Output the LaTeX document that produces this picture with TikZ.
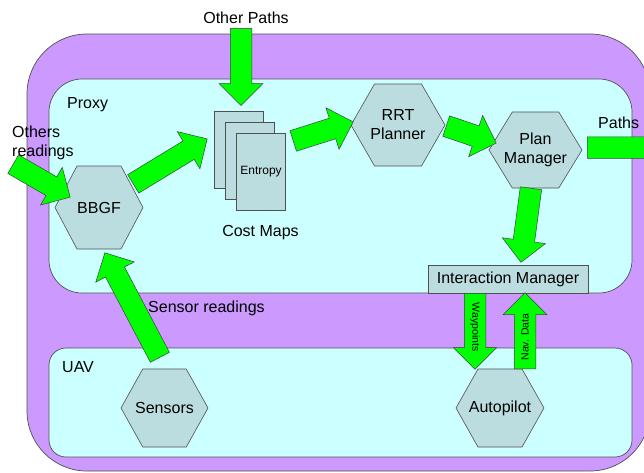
\documentclass[tikz,border=0pt]{standalone}
\usepackage{fontspec}
\setmainfont{Liberation Sans}
\usetikzlibrary{shapes.arrows,calc}
\definecolor{outerc}{HTML}{CC99FF}
\definecolor{innerc}{HTML}{CCFFFF}
\definecolor{hexc}{HTML}{BBDDE0}
\definecolor{linec}{HTML}{505050}
\definecolor{arrc}{HTML}{00FF00}
\tikzset{
  lbl/.style={inner sep=0pt, font=\fontsize{16}{19}\selectfont},
  hexbody/.style={fill=hexc, draw=linec, line width=0.6pt},
  hexlabel/.style={inner sep=0pt, align=center, font=\fontsize{16}{19}\selectfont},
  sheet/.style={draw=linec, fill=hexc, line width=0.6pt, minimum width=49pt, minimum height=77pt, inner sep=0pt},
  barrow/.style={single arrow, draw=black!75, fill=arrc, line width=0.5pt, inner sep=0pt, inner ysep=10.5pt, single arrow head extend=11pt, single arrow tip angle=90},
  region/.style={draw=linec, line width=0.7pt},
}
\newcommand\hexnode[6]{%
  \filldraw[hexbody] (#2-#4,#3) -- (#2-#4/2,#3-#5) -- (#2+#4/2,#3-#5) -- (#2+#4,#3) -- (#2+#4/2,#3+#5) -- (#2-#4/2,#3+#5) -- cycle;
  \node[hexlabel, minimum width=2*#4, minimum height=2*#5] (#1) at (#2,#3) {#6};
}
\newcommand\blockarrow[2]{%
  \path let \p1=(#1), \p2=(#2), \n1={atan2(\y2-\y1,\x2-\x1)}, \n2={veclen(\x2-\x1,\y2-\y1)} in
    node[barrow, minimum height=\n2, rotate=\n1, anchor=tail] at (\p1) {};
}
\begin{document}
\begin{tikzpicture}[x=1pt,y=-1pt]
\useasboundingbox (0,0) rectangle (644,472);
\clip (0,0) rectangle (644,472);
\fill[white] (0,0) rectangle (644,472);
% regions
\draw[region, fill=outerc, rounded corners=60pt] (27,34) rectangle (650,471);
\draw[region, fill=innerc, rounded corners=33pt] (49,79) rectangle (632,293);
\draw[region, fill=innerc, rounded corners=17pt] (49,348) rectangle (632,457);
% hexagons
\hexnode{bbgf}{99}{207.5}{44}{41.5}{BBGF}
\hexnode{rrt}{398}{125}{47}{41}{RRT\\Planner}
\hexnode{pm}{535.5}{150}{46.5}{38}{Plan\\Manager}
\hexnode{sens}{164.5}{408}{43.5}{39}{Sensors}
\hexnode{auto}{500}{408}{44}{39}{Autopilot}
% cost maps
\node[sheet] (cm1) at (238.5,150) {};
\node[sheet] (cm2) at (249.5,161) {};
\node[sheet, font=\fontsize{12}{14}\selectfont] (cm3) at (261,171.5) {Entropy};
% interaction manager
\node[draw=linec, fill=hexc, line width=0.6pt, minimum width=160pt, minimum height=28pt, inner sep=0pt, font=\fontsize{16}{19}\selectfont] (im) at (508,279) {Interaction Manager};
% arrow end points
\coordinate (opT) at ($(cm1.north)+(2.5,-83)$);
\coordinate (opH) at ($(cm1.north)+(2.5,-6)$);
\coordinate (orT) at ($(bbgf)+(-86,-43.5)$);
\coordinate (orH) at ($(bbgf)+(-29,-10.5)$);
\coordinate (bcT) at ($(bbgf)+(34,-23.5)$);
\coordinate (bcH) at ($(cm1)+(-31.5,-11)$);
\coordinate (crT) at ($(cm3)+(32,-30.5)$);
\coordinate (crH) at ($(rrt)+(-45,-3)$);
\coordinate (rpT) at ($(rrt)+(48,1)$);
\coordinate (rpH) at ($(pm)+(-39.5,-7)$);
\coordinate (piT) at ($(pm)+(-4.5,38)$);
\coordinate (piH) at ($(im)+(13,-17)$);
\coordinate (sbT) at ($(sens)+(-4.5,-50.5)$);
\coordinate (sbH) at ($(bbgf)+(6,45.5)$);
\coordinate (wpT) at ($(im)+(-33,14)$);
\coordinate (wpH) at ($(auto)+(-25,-39)$);
\coordinate (ndT) at ($(auto)+(25,-39)$);
\coordinate (ndH) at ($(im)+(17,14)$);
\coordinate (paT) at ($(pm)+(51.5,-2.5)$);
\coordinate (paH) at ($(pm)+(164.5,-2.5)$);
% block arrows
\blockarrow{opT}{opH}
\blockarrow{orT}{orH}
\blockarrow{bcT}{bcH}
\blockarrow{crT}{crH}
\blockarrow{rpT}{rpH}
\blockarrow{piT}{piH}
\blockarrow{sbT}{sbH}
\blockarrow{wpT}{wpH}
\blockarrow{ndT}{ndH}
\blockarrow{paT}{paH}
% arrow labels
\node[inner sep=0pt, rotate=-90, font=\fontsize{10.5}{12}\selectfont] (wpl) at ($(wpT)!0.45!(wpH)$) {Waypoints};
\node[inner sep=0pt, rotate=90, font=\fontsize{10.5}{12}\selectfont] (ndl) at ($(ndT)!0.42!(ndH)$) {Nav. Data};
% texts
\node[lbl, anchor=base] (otherpaths) at (246,23) {Other Paths};
\node[lbl, anchor=base west] (proxy) at (67,108) {Proxy};
\node[lbl, anchor=north west, align=left] (others) at (12,125.5) {Others\\readings};
\node[lbl, anchor=base] (costmaps) at (260.5,236) {Cost Maps};
\node[lbl, anchor=base west] (paths) at (598,128) {Paths};
\node[lbl, anchor=base west] (sensread) at (148,312) {Sensor readings};
\node[lbl, anchor=base west] (uav) at (62,372) {UAV};
\end{tikzpicture}
\end{document}
